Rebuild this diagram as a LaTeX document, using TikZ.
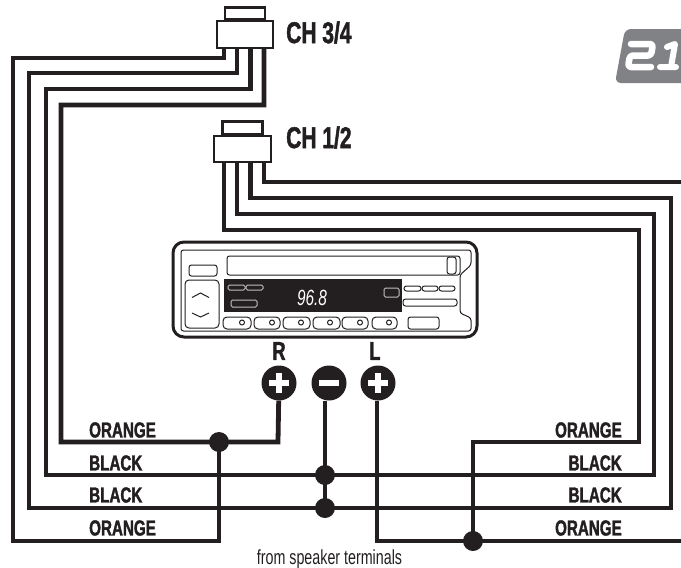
\documentclass[tikz,border=0pt]{standalone}
\usepackage{fontspec}
\usepackage{tikz}
\usetikzlibrary{positioning,calc}
\newfontfamily\condfont[FakeStretch=.7,BoldFeatures={FakeBold=1.6}]{Liberation Sans}
\definecolor{ink}{HTML}{231F20}
\definecolor{logogray}{HTML}{808285}
\begin{document}
\begin{tikzpicture}[x=1pt,y=-1pt,
  wire/.style={draw=ink,line width=4.8pt},
  plug/.style={draw=ink,fill=white,line width=2.5pt,inner sep=0pt},
  dot/.style={circle,fill=ink,inner sep=0pt,minimum size=20pt},
  terminal/.style={circle,fill=ink,inner sep=0pt,minimum size=35pt},
  thin line/.style={draw=ink,line width=1pt,rounded corners=2.5pt},
  lit/.style={draw=black!25,fill=ink,line width=1pt,rounded corners=1.5pt,inner sep=0pt},
  bigtag/.style={font=\condfont\bfseries\fontsize{30}{30}\selectfont,text=ink,inner sep=0pt},
  tag/.style={font=\condfont\bfseries\fontsize{21.7}{22}\selectfont,text=ink,inner sep=0pt}]
    \useasboundingbox (0,0) rectangle (681,568);
    % logo
    \fill[logogray,rounded corners=6pt] (625,29) -- (690,29) -- (690,83) -- (615,83) -- cycle;
    \draw[white,line width=6.5pt,line cap=round,line join=round,rounded corners=3pt]
      (631,44) -- (653,44) -- (651,55.5) -- (630,55.5) -- (628,67) -- (651,67);
    \draw[white,line width=6pt,line cap=round,line join=round]
      (667,47) -- (675,44) -- (671,67) (660,67) -- (676,67);
    % plugs and junctions
    \coordinate (dR) at (219,442);
    \coordinate (dA) at (325,475);
    \coordinate (dB) at (325,508);
    \coordinate (dL) at (473,541);
    \node[terminal] (tR) at (279,383) {};
    \node[terminal] (tM) at (329,383) {};
    \node[terminal] (tL) at (378,383) {};
    \foreach \n/\x in {a/224,b/237,c/250.5,d/264}{
      \coordinate (up\n) at (\x,48);
      \coordinate (lo\n) at (\x,162);
    }
    % wires
    \draw[wire] (upa) |- (13,58) |- (219,541) -- (dR);
    \draw[wire] (upb) |- (29,73) |- (671,508) -- (671,198) -| (loc);
    \draw[wire] (upc) |- (46,89) |- (654,475) -- (654,214) -| (lob);
    \draw[wire] (upd) |- (61,105) |- (278,442) -- (tR);
    \draw[wire] (loa) |- (639,230) |- (473,442) -- (dL);
    \draw[wire] (lod) |- (681,182);
    \draw[wire] (tM.south -| dA) -- (dB);
    \draw[wire] (tL.south -| 377,0) |- (681,541);
    \node[dot] (jR) at (dR) {};
    \node[dot] (jA) at (dA) {};
    \node[dot] (jB) at (dB) {};
    \node[dot] (jL) at (dL) {};
    \node[plug,minimum width=56pt,minimum height=27pt] (ch34) at (245,34.5) {};
    \node[plug,minimum width=40pt,minimum height=12pt,above=-1pt of ch34] (tab34) {};
    \node[plug,minimum width=57pt,minimum height=26pt] (ch12) at (242.5,149) {};
    \node[plug,minimum width=40pt,minimum height=13pt,above=-1pt of ch12] (tab12) {};
    \node[bigtag,anchor=west] (l34) at (286,32.5) {CH 3/4};
    \node[bigtag,anchor=west] (l12) at (286,137.5) {CH 1/2};
    % head unit
    \draw[ink,line width=3pt,rounded corners=11pt] (173,242) rectangle (477,337);
    \draw[thin line] (186,250) -- (471,250) -- (471,265) -- (460,275) -- (460,313)
      -- (471,318) -- (471,331) -- (181,331) -- (181,250) -- cycle;
    \draw[thin line] (227,256) rectangle (460,275);
    \draw[thin line] (447,257) rectangle (456,274);
    \draw[thin line] (189,265) rectangle (217,276);
    \draw[thin line,rounded corners=4pt] (185,280) rectangle (219,328);
    \draw[ink,line width=1pt] (192,297.5) -- (200.5,293) -- (209,297.5);
    \draw[ink,line width=1pt] (192,313) -- (200.5,317) -- (209,313);
    \node[fill=ink,inner sep=0pt,minimum width=178pt,minimum height=33pt] (display) at (313,295.5) {};
    \foreach \xa/\xb/\ya/\yb in {228/245/285/290,246/263/285/290,231/257/300/307,384/399/288/297}
      \draw[lit] (\xa,\ya) rectangle (\xb,\yb);
    \node[font=\condfont\itshape\fontsize{22}{22}\selectfont,text=white,inner sep=0pt] (freq) at (312,298) {96.8};
    \foreach \xa/\xb/\ya/\yb in {404/421/286/291,422/438/286/291,439/455/286/291,403/457/299/306,408/439/317/329}
      \draw[thin line] (\xa,\ya) rectangle (\xb,\yb);
    \foreach \xa/\xb/\xc in {223/251/242,254/280/272,283/310/301,313/340/330,342/368/360,372/397/389}{
      \draw[thin line,rounded corners=4pt] (\xa,317) rectangle (\xb,329);
      \draw[ink,line width=1pt] (\xc,322.5) circle (2.5pt);
    }
    % terminals
    \node[bigtag,font=\condfont\bfseries\fontsize{26}{26}\selectfont] (lR) at (279,351) {R};
    \node[bigtag,font=\condfont\bfseries\fontsize{26}{26}\selectfont] (lL) at (375,351) {L};
    \foreach \t in {tR,tM,tL}
      \draw[white,line width=6pt] ($(\t)+(-10,0)$) -- ($(\t)+(10,0)$);
    \foreach \t in {tR,tL}
      \draw[white,line width=6pt] ($(\t)+(0,-10)$) -- ($(\t)+(0,10)$);
    % colours
    \node[tag,anchor=west] (o1) at (89,430) {ORANGE};
    \node[tag,anchor=west] (b1) at (89,463) {BLACK};
    \node[tag,anchor=west] (b2) at (89,495) {BLACK};
    \node[tag,anchor=west] (o2) at (89,528) {ORANGE};
    \node[tag,anchor=east] (o3) at (622,430) {ORANGE};
    \node[tag,anchor=east] (b3) at (622,463) {BLACK};
    \node[tag,anchor=east] (b4) at (622,495) {BLACK};
    \node[tag,anchor=east] (o4) at (622,528) {ORANGE};
    \node[font=\condfont\fontsize{20.4}{20}\selectfont,text=ink,inner sep=0pt] (from) at (329.5,559) {from speaker terminals};
\end{tikzpicture}
\end{document}
